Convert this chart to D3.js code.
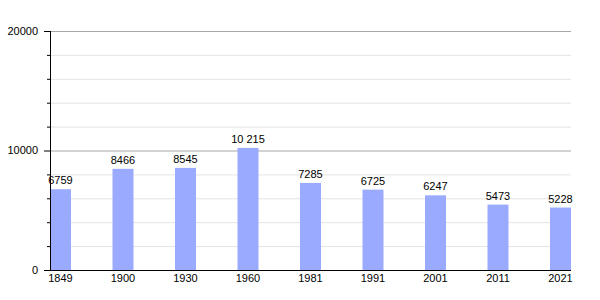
<!DOCTYPE html>
<html>
<head>
<meta charset="utf-8">
<script src="https://cdn.jsdelivr.net/npm/d3@7"></script>
<style>
  body { margin: 0; background: #fff; }
  text { font-family: "Liberation Sans", Arial, sans-serif; font-size: 11px; fill: #000; }
</style>
</head>
<body>
<div id="chart"></div>
<script>
// data
const years = ["1849", "1900", "1930", "1960", "1981", "1991", "2001", "2011", "2021"];
const population = [6759, 8466, 8545, 10215, 7285, 6725, 6247, 5473, 5228];
const labels = ["6759", "8466", "8545", "10 215", "7285", "6725", "6247", "5473", "5228"];
const gridValues = [2000, 4000, 6000, 8000, 12000, 14000, 16000, 18000];
const majorValues = [0, 10000, 20000];

const plotLeft = 50, plotRight = 571, plotTop = 31, plotBottom = 270;
const barWidth = 21;

const svg = d3.select("#chart").append("svg")
    .attr("width", 600)
    .attr("height", 300);

const y = d3.scaleLinear().domain([0, 20000]).range([plotBottom, plotTop]);
const step = (plotRight - plotLeft - barWidth) / (years.length - 1);
const x = d3.scalePoint().domain(years).range([plotLeft, plotLeft + step * (years.length - 1)]);

// minor gridlines
svg.selectAll(".grid")
    .data(gridValues)
  .enter().append("line")
    .attr("x1", plotLeft).attr("x2", plotRight)
    .attr("y1", d => y(d) + 0.5).attr("y2", d => y(d) + 0.5)
    .attr("stroke", "#e3e3e3")
    .attr("stroke-width", 1);

// minor ticks
svg.selectAll(".minortick")
    .data(gridValues)
  .enter().append("line")
    .attr("x1", plotLeft - 3).attr("x2", plotLeft)
    .attr("y1", d => y(d) + 0.5).attr("y2", d => y(d) + 0.5)
    .attr("stroke", "#000");

// major gridlines
svg.selectAll(".major")
    .data(majorValues.filter(d => d > 0))
  .enter().append("line")
    .attr("x1", plotLeft).attr("x2", plotRight)
    .attr("y1", d => y(d) + 0.5).attr("y2", d => y(d) + 0.5)
    .attr("stroke", "#a8a8a8");

// major ticks + labels
svg.selectAll(".majortick")
    .data(majorValues)
  .enter().append("line")
    .attr("x1", plotLeft - 6).attr("x2", plotLeft)
    .attr("y1", d => y(d) + 0.5).attr("y2", d => y(d) + 0.5)
    .attr("stroke", "#000");

svg.selectAll(".ylabel")
    .data(majorValues)
  .enter().append("text")
    .attr("x", plotLeft - 12)
    .attr("y", d => y(d))
    .attr("dy", "0.35em")
    .attr("text-anchor", "end")
    .text(d => d);

// bars
svg.selectAll(".bar")
    .data(population)
  .enter().append("rect")
    .attr("x", (d, i) => x(years[i]))
    .attr("y", d => y(d))
    .attr("width", barWidth)
    .attr("height", d => plotBottom - y(d))
    .attr("fill", "#99aaff");

// axes
svg.append("line")
    .attr("x1", plotLeft + 0.5).attr("x2", plotLeft + 0.5)
    .attr("y1", plotTop).attr("y2", plotBottom)
    .attr("stroke", "#000");
svg.append("line")
    .attr("x1", plotLeft - 6).attr("x2", plotRight)
    .attr("y1", plotBottom + 0.5).attr("y2", plotBottom + 0.5)
    .attr("stroke", "#000");

// value labels
svg.selectAll(".vlabel")
    .data(population)
  .enter().append("text")
    .attr("x", (d, i) => x(years[i]) + barWidth / 2)
    .attr("y", d => y(d) - 5)
    .attr("text-anchor", "middle")
    .text((d, i) => labels[i]);

// year labels
svg.selectAll(".xlabel")
    .data(years)
  .enter().append("text")
    .attr("x", d => x(d) + barWidth / 2)
    .attr("y", plotBottom + 12)
    .attr("text-anchor", "middle")
    .text(d => d);
</script>
</body>
</html>
